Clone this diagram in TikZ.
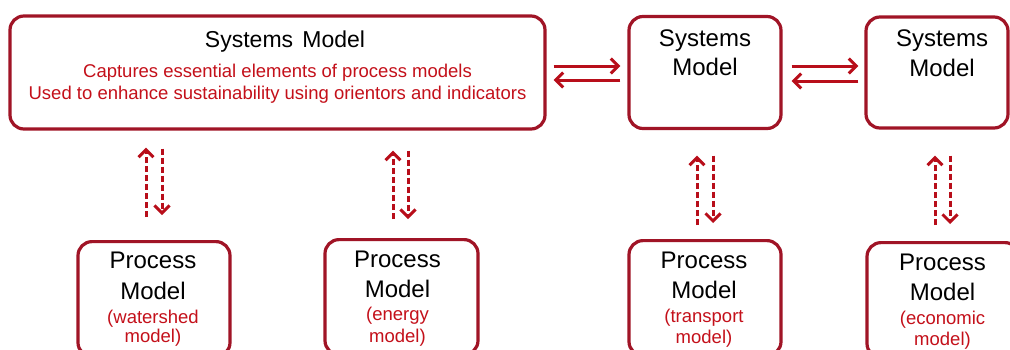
\documentclass[tikz,border=0pt]{standalone}
\usepackage{fontspec}
\setmainfont{Liberation Sans}
\usetikzlibrary{arrows.meta}
\definecolor{boxred}{RGB}{160,20,38}
\definecolor{arrred}{RGB}{184,14,26}
\definecolor{txtred}{RGB}{196,16,26}
\begin{document}
\begin{tikzpicture}[x=1pt,y=-1pt,
  box/.style={draw=boxred, line width=3.2pt, rounded corners=14pt, inner sep=0pt},
  harrow/.style={draw=arrred, line width=3pt, -{Straight Barb[length=7.5pt,width=15pt]}},
  varrow/.style={harrow, dash pattern=on 6pt off 3pt},
  title/.style={anchor=base, font=\fontsize{23}{26}\selectfont},
  blk/.style={anchor=base, font=\fontsize{24}{28}\selectfont},
  red/.style={anchor=base, text=txtred, font=\fontsize{18.5}{21}\selectfont}
]
\clip (0,0) rectangle (1010,349);
\fill[white] (0,0) rectangle (1010,349);

% systems boxes
\node[box, minimum width=535pt, minimum height=113pt] (sys) at (277.5,72.5) {};
\node[box, minimum width=152pt, minimum height=112pt] (s2) at (705,72.5) {};
\node[box, minimum width=142pt, minimum height=111pt] (s3) at (937,72.5) {};

\node[title] (t1) at (285,47) {Systems\hspace{0.4em}Model};
\node[red] (t2) at (277.5,77.5) {Captures essential elements of process models};
\node[red] (t3) at (277.5,99.5) {Used to enhance sustainability using orientors and indicators};

\node[blk] (s2a) at (705,46) {Systems};
\node[blk] (s2b) at (705,75) {Model};
\node[blk] (s3a) at (942,46) {Systems};
\node[blk] (s3b) at (942,76) {Model};

% process boxes
\node[box, minimum width=152pt, minimum height=115pt, anchor=north] (p1) at (154,240) {};
\node[box, minimum width=153pt, minimum height=115pt, anchor=north] (p2) at (401.5,238) {};
\node[box, minimum width=152pt, minimum height=115pt, anchor=north] (p3) at (705,239) {};
\node[box, minimum width=152pt, minimum height=115pt, anchor=north] (p4) at (943,241) {};

\node[blk] (p1a) at (153,268) {Process};
\node[blk] (p1b) at (153,299) {Model};
\node[red] (p1c) at (153,323) {(watershed};
\node[red] (p1d) at (153,342) {model)};

\node[blk] (p2a) at (397.5,267) {Process};
\node[blk] (p2b) at (397.5,297) {Model};
\node[red] (p2c) at (397.5,320) {(energy};
\node[red] (p2d) at (397.5,342) {model)};

\node[blk] (p3a) at (704,268) {Process};
\node[blk] (p3b) at (704,298) {Model};
\node[red] (p3c) at (704,322) {(transport};
\node[red] (p3d) at (704,343) {model)};

\node[blk] (p4a) at (942.5,270) {Process};
\node[blk] (p4b) at (942.5,300) {Model};
\node[red] (p4c) at (942.5,324) {(economic};
\node[red] (p4d) at (942.5,345) {model)};

% horizontal arrows
\draw[harrow, shorten <=7pt, shorten >=7pt] ([yshift=6.5pt]sys.east) -- ([yshift=6.5pt]s2.west);
\draw[harrow, shorten <=7pt, shorten >=7pt] ([yshift=-7.5pt]s2.west) -- ([yshift=-7.5pt]sys.east);
\draw[harrow, shorten <=9pt, shorten >=6pt] ([yshift=6.5pt]s2.east) -- ([yshift=6.5pt]s3.west);
\draw[harrow, shorten <=6pt, shorten >=9pt] ([yshift=-8.5pt]s3.west) -- ([yshift=-8.5pt]s2.east);

% vertical dashed arrows
\draw[varrow, shorten <=23pt, shorten >=17pt] ([xshift=-8pt]p1.north) -- ([xshift=-8pt]p1.north |- sys.south);
\draw[varrow, shorten <=18pt, shorten >=25pt] ([xshift=8pt]p1.north |- sys.south) -- ([xshift=8pt]p1.north);

\draw[varrow, shorten <=19pt, shorten >=20pt] ([xshift=-8.5pt]p2.north) -- ([xshift=-8.5pt]p2.north |- sys.south);
\draw[varrow, shorten <=20pt, shorten >=19pt] ([xshift=6.5pt]p2.north |- sys.south) -- ([xshift=6.5pt]p2.north);

\draw[varrow, shorten <=14pt, shorten >=25.5pt] ([xshift=-8pt]p3.north) -- ([xshift=-8pt]p3.north |- s2.south);
\draw[varrow, shorten <=25.5pt, shorten >=16pt] ([xshift=8pt]p3.north |- s2.south) -- ([xshift=8pt]p3.north);

\draw[varrow, shorten <=16pt, shorten >=26pt] ([xshift=-8pt]p4.north) -- ([xshift=-8pt]p4.north |- s3.south);
\draw[varrow, shorten <=26pt, shorten >=17pt] ([xshift=7pt]p4.north |- s3.south) -- ([xshift=7pt]p4.north);
\end{tikzpicture}
\end{document}
